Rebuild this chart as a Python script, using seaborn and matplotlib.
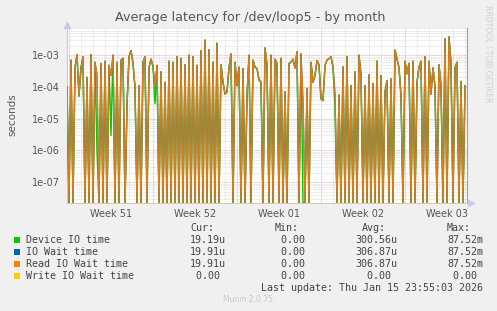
import numpy as np
import pandas as pd
import matplotlib
matplotlib.use("Agg")
import matplotlib.pyplot as plt
import matplotlib.dates as mdates
import matplotlib.ticker as mticker
from matplotlib.transforms import ScaledTranslation, blended_transform_factory
from matplotlib.patches import Rectangle
import seaborn as sns

# ---------------- data ----------------
start_time = "2025-12-14 20:00"
sample_step = "4h"

read_wait = [
    1.0e-4, 0, 7.0e-4, 0, 4.0e-4, 1.05e-3, 5.5e-5, 4.0e-4, 9.0e-4, 0,
    2.0e-4, 0, 1.05e-3, 0, 6.0e-4, 2.4e-4, 0, 5.5e-4, 0, 6.5e-4,
    0, 4.8e-4, 2.3e-4, 1.0e-3, 0, 6.0e-4, 0, 7.0e-4, 8.0e-4, 0,
    2.6e-5, 9.0e-4, 1.4e-3, 5.5e-4, 1.0e-4, 0, 1.1e-4, 0, 6.0e-4, 9.0e-4,
    0, 4.0e-4, 7.5e-4, 4.5e-4, 1.0e-4, 4.8e-4, 0, 3.0e-4, 0, 1.4e-4,
    0, 6.5e-4, 0, 6.0e-4, 0, 9.0e-4, 0, 8.0e-4, 0, 5.0e-4,
    0, 1.0e-3, 0, 9.0e-4, 0, 4.8e-4, 0, 1.4e-3, 0, 3.0e-3,
    0, 1.5e-3, 0, 6.0e-4, 0, 2.4e-3, 0, 5.0e-4, 1.4e-4, 6.0e-5,
    7.0e-5, 4.0e-4, 1.1e-3, 0, 6.0e-4, 1.1e-4, 4.2e-4, 0, 3.8e-4, 0,
    5.0e-5, 1.0e-3, 0, 7.0e-4, 4.2e-4, 3.8e-4, 1.8e-4, 1.4e-4, 0, 1.7e-3,
    5.0e-4, 0, 1.0e-3, 0, 7.5e-4, 5.5e-4, 0, 8.0e-4, 0, 7.0e-5,
    0, 5.5e-4, 6.0e-4, 7.5e-4, 4.0e-4, 1.3e-3, 0, 1.1e-3, 3.5e-5, 0,
    9.0e-5, 0, 6.0e-4, 1.4e-4, 2.3e-4, 6.8e-4, 5.0e-4, 4.2e-5, 3.7e-5, 4.8e-4,
    7.0e-4, 7.8e-4, 9.0e-4, 4.3e-4, 6.0e-5, 0, 5.5e-5, 0, 4.3e-4, 0,
    9.0e-4, 0, 1.1e-4, 0, 3.0e-4, 0, 1.0e-3, 2.4e-4, 0, 1.1e-4,
    0, 2.4e-4, 0, 1.3e-4, 0, 6.5e-4, 0, 2.3e-4, 0, 7.0e-5,
    1.6e-4, 0, 1.8e-4, 0, 1.45e-3, 7.8e-4, 4.0e-4, 5.2e-5, 0, 6.5e-4,
    2.6e-4, 5.5e-4, 0, 6.5e-4, 0, 1.4e-4, 4.2e-4, 6.5e-4, 0, 9.0e-4,
    0, 6.5e-4, 6.0e-5, 4.0e-4, 1.0e-4, 0, 5.0e-4, 1.1e-4, 0, 3.3e-3,
    0, 3.8e-3, 5.5e-4, 0, 4.0e-4, 6.0e-4, 0, 1.5e-4, 0, 1.1e-4,
]

device_io = [
    1.0e-4, 0, 7.0e-4, 0, 4.0e-4, 1.05e-3, 5.0e-5, 4.0e-4, 9.0e-4, 0,
    2.0e-4, 0, 1.05e-3, 0, 6.0e-4, 1.0e-6, 0, 5.5e-4, 0, 6.5e-4,
    0, 4.8e-4, 3.0e-6, 1.0e-3, 0, 6.0e-4, 0, 7.0e-4, 8.0e-4, 0,
    2.6e-5, 9.0e-4, 1.4e-3, 5.5e-4, 9.0e-5, 0, 1.1e-4, 0, 6.0e-4, 9.0e-4,
    0, 4.0e-4, 7.5e-4, 4.5e-4, 3.0e-5, 4.8e-4, 0, 3.0e-4, 0, 1.4e-4,
    0, 6.5e-4, 0, 6.0e-4, 0, 9.0e-4, 0, 8.0e-4, 0, 5.0e-4,
    0, 1.0e-3, 0, 9.0e-4, 0, 4.8e-4, 0, 1.4e-3, 0, 3.0e-3,
    0, 1.5e-3, 0, 6.0e-4, 0, 2.4e-3, 0, 5.0e-4, 1.4e-4, 6.0e-5,
    7.0e-5, 4.0e-4, 1.1e-3, 0, 6.0e-4, 1.1e-4, 4.2e-4, 0, 3.8e-4, 0,
    5.0e-5, 1.0e-3, 0, 7.0e-4, 4.2e-4, 3.8e-4, 1.6e-4, 1.4e-4, 0, 1.7e-3,
    5.0e-4, 0, 1.0e-3, 0, 7.5e-4, 5.5e-4, 0, 8.0e-4, 0, 7.0e-5,
    0, 5.5e-4, 6.0e-4, 7.5e-4, 4.0e-4, 1.3e-3, 0, 1.1e-3, 0, 0,
    9.0e-5, 0, 6.0e-4, 1.4e-4, 2.3e-4, 6.8e-4, 5.0e-4, 4.2e-5, 3.7e-5, 4.8e-4,
    7.0e-4, 7.8e-4, 9.0e-4, 4.3e-4, 2.3e-5, 0, 5.5e-5, 0, 4.3e-4, 0,
    9.0e-4, 0, 1.1e-4, 0, 3.0e-4, 0, 1.0e-3, 2.4e-4, 0, 1.1e-4,
    0, 2.4e-4, 0, 1.3e-4, 0, 6.5e-4, 0, 2.3e-4, 0, 7.0e-5,
    1.6e-4, 0, 1.8e-4, 0, 1.45e-3, 7.8e-4, 4.0e-4, 5.2e-5, 0, 6.5e-4,
    2.6e-4, 5.5e-4, 0, 6.5e-4, 0, 1.4e-4, 4.2e-4, 6.5e-4, 0, 9.0e-4,
    0, 6.5e-4, 6.0e-5, 4.0e-4, 1.0e-4, 0, 5.0e-4, 1.1e-4, 0, 3.3e-3,
    0, 3.8e-3, 5.5e-4, 0, 4.0e-4, 6.0e-4, 0, 1.5e-4, 0, 1.1e-4,
]

# IO Wait time coincides exactly with Read IO Wait time (identical legend stats)
io_wait = list(read_wait)
# Write IO Wait time is zero over the whole period
write_wait = [0.0] * len(read_wait)

series_names = ["Device IO time", "IO Wait time", "Read IO Wait time", "Write IO Wait time"]
series_colors = ["#00CC00", "#0066B3", "#FF8000", "#FFCC00"]
cur_vals = ["19.19u", "19.91u", "19.91u", "0.00 "]
min_vals = ["0.00 ", "0.00 ", "0.00 ", "0.00 "]
avg_vals = ["300.56u", "306.87u", "306.87u", "0.00 "]
max_vals = ["87.52m", "87.52m", "87.52m", "0.00 "]

title = "Average latency for /dev/loop5 - by month"
y_label = "seconds"
last_update = "Last update: Thu Jan 15 23:55:03 2026"
footer = "Munin 2.0.75"
side_text = "RRDTOOL / TOBI OETIKER"

# ---------------- figure ----------------
W, H = 497, 311
sns.set_theme(style="white")
plt.rcParams["font.family"] = ["DejaVu Sans"]

fig = plt.figure(figsize=(W / 100, H / 100), dpi=100, facecolor="#F0F0F0")
ax = fig.add_axes([67 / W, (H - 203) / H, 400 / W, 175 / H])
ax.set_facecolor("white")
ax.set_yscale("log")
Y_MIN, Y_MAX = 2.2e-8, 7.2e-3

times = pd.date_range(start_time, periods=len(read_wait), freq=sample_step)
df = pd.DataFrame({"time": times})
all_series = [device_io, io_wait, read_wait, write_wait]
for name, vals in zip(series_names, all_series):
    v = np.asarray(vals, dtype=float)
    df[name] = np.where(v > 0, v, Y_MIN)

widths = [1.05, 0.9, 1.0, 0.7]
alphas = [1.0, 1.0, 0.86, 0.7]
for name, col, lw, a in zip(series_names, series_colors, widths, alphas):
    sns.lineplot(data=df, x="time", y=name, color=col, linewidth=lw, alpha=a,
                 ax=ax, legend=False, estimator=None, zorder=3)

t0 = pd.Timestamp(start_time)
t1 = t0 + pd.Timedelta(days=33, hours=8)
ax.set_xlim(t0, t1)
ax.set_ylim(Y_MIN, Y_MAX)

# grids
ax.yaxis.set_major_locator(mticker.LogLocator(base=10, numticks=20))
ax.yaxis.set_minor_locator(mticker.LogLocator(base=10, subs=np.arange(2, 10), numticks=20))
ax.yaxis.set_major_formatter(mticker.FuncFormatter(lambda v, p: f"{v:.0e}"))
ax.yaxis.set_minor_formatter(mticker.NullFormatter())
ax.xaxis.set_major_locator(mdates.WeekdayLocator(byweekday=mdates.MO))
ax.xaxis.set_minor_locator(mdates.DayLocator())
ax.xaxis.set_major_formatter(mticker.NullFormatter())

ax.grid(which="minor", axis="both", color="#d8d8d8", linestyle=(0, (1, 1)), linewidth=0.6, zorder=1)
ax.grid(which="major", axis="both", color="#e8a0a0", linestyle=(0, (1, 1)), linewidth=0.6, zorder=1)
ax.set_axisbelow(True)

ax.tick_params(axis="y", which="major", length=2, width=0.6, color="#e8a0a0",
               labelsize=7, labelcolor="#555555", pad=3)
ax.tick_params(axis="y", which="minor", length=0)
ax.tick_params(axis="x", which="major", length=2, width=0.6, color="#e8a0a0", direction="out")
ax.tick_params(axis="x", which="minor", length=1, width=0.5, color="#c8c8c8")

# week labels centered in each week
trans = blended_transform_factory(ax.transData, ax.transAxes)
for monday in pd.date_range(t0.normalize() - pd.Timedelta(days=7), t1, freq="W-MON"):
    centre = monday + pd.Timedelta(days=3, hours=12)
    if t0 <= centre <= t1:
        ax.text(mdates.date2num(centre), -0.035, monday.strftime("Week %V"),
                transform=trans, ha="center", va="top", fontsize=7, color="#555555")

ax.spines["top"].set_visible(False)
ax.spines["left"].set_color("#c8c8f0")
ax.spines["left"].set_linewidth(0.8)
ax.spines["bottom"].set_color("#d8cc98")
ax.spines["bottom"].set_linewidth(0.7)
ax.spines["right"].set_color("#a0a0a0")
ax.spines["right"].set_linewidth(0.8)
ax.set_xlabel("")
ax.set_ylabel("")

# axis arrows
ax.plot([0], [1], transform=ax.transAxes + ScaledTranslation(0, 0.03, fig.dpi_scale_trans),
        marker="^", ms=4.5, color="#c8c8f0", clip_on=False, zorder=5)
ax.plot([1], [0], transform=ax.transAxes + ScaledTranslation(0.04, 0, fig.dpi_scale_trans),
        marker=">", ms=4.5, color="#c8c8f0", clip_on=False, zorder=5)

# texts
fig.text(250 / W, 1 - 18 / H, title, ha="center", va="center", fontsize=9.2, color="#555555")
fig.text(12 / W, 1 - 115 / H, y_label, rotation=90, ha="center", va="center", fontsize=7.5, color="#555555")
fig.text(488 / W, 1 - 54 / H, side_text, rotation=270, ha="center", va="center", fontsize=5.5, color="#d0d0d0")

mono = "DejaVu Sans Mono"
fs = 7.2
tc = "#444444"
hy = 228
for lbl, xl in zip(["Cur:", "Min:", "Avg:", "Max:"], [190, 275, 362, 447]):
    fig.text(xl / W, 1 - hy / H, lbl, family=mono, fontsize=fs, color=tc, ha="left", va="center")

row_y = [240, 252, 264, 276]
for k in range(4):
    y = 1 - row_y[k] / H
    fig.add_artist(Rectangle((14 / W, y - 3 / H), 6 / W, 6 / H, transform=fig.transFigure,
                             facecolor=series_colors[k], edgecolor="none"))
    fig.text(26 / W, y, series_names[k], family=mono, fontsize=fs, color=tc, ha="left", va="center")
    for col, xr in zip([cur_vals, min_vals, avg_vals, max_vals], [226, 311, 397, 483]):
        fig.text(xr / W, y, col[k], family=mono, fontsize=fs, color=tc, ha="right", va="center")

fig.text(483 / W, 1 - 288 / H, last_update, family=mono, fontsize=fs, color=tc, ha="right", va="center")
fig.text(248 / W, 1 - 300 / H, footer, fontsize=5.5, color="#c8c8c8", ha="center", va="center")

fig.savefig("out.png", dpi=100, facecolor=fig.get_facecolor())
